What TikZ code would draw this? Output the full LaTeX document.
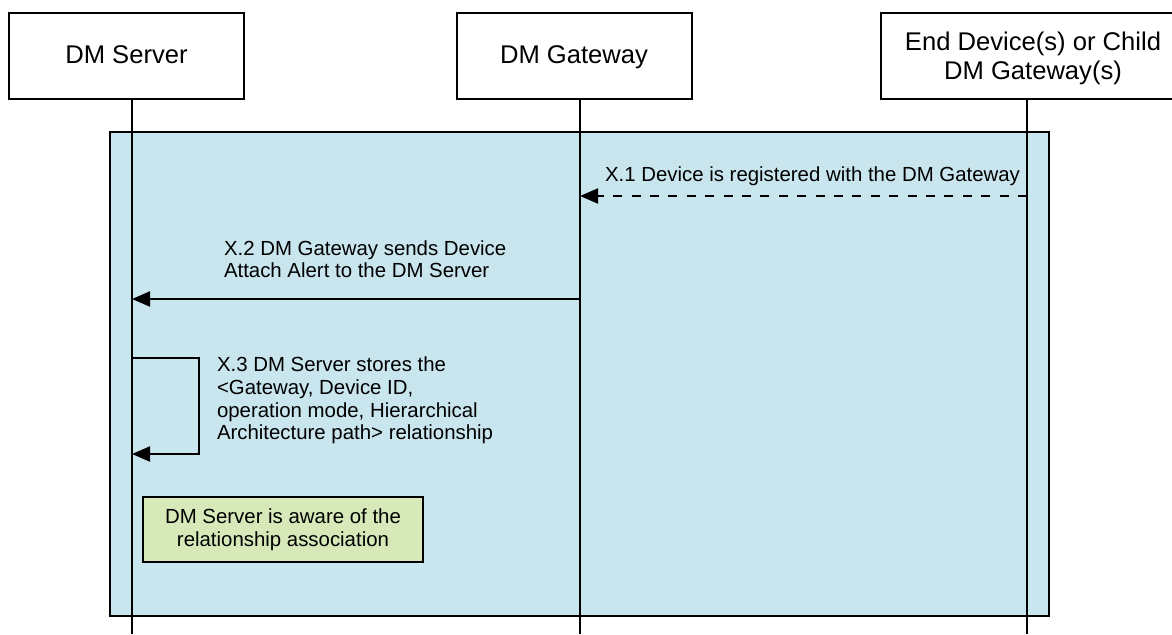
\documentclass[tikz,border=0pt]{standalone}
\usepackage{fontspec}
\setmainfont{Liberation Sans}
\usetikzlibrary{arrows.meta}
\definecolor{frameblue}{HTML}{C9E5EE}
\definecolor{notegreen}{HTML}{D7E9B9}
\begin{document}
\begin{tikzpicture}[x=0.5pt, y=-0.5pt, line width=1pt,
  actor/.style={draw, fill=white, minimum width=117.5pt, minimum height=43pt, inner sep=0pt, align=center, font=\fontsize{12.8}{14.5}\selectfont},
  onerow/.style={text height=0.85em, text depth=0.11em},
  msg/.style={inner sep=0pt, align=left, font=\fontsize{10.2}{11.3}\selectfont},
  note/.style={draw, fill=notegreen, minimum width=140pt, minimum height=32.5pt, inner sep=0pt, align=center, font=\fontsize{10.2}{11.3}\selectfont},
  call/.style={-{Triangle[length=9pt, width=7.5pt]}}]
\useasboundingbox (0,0) rectangle (1172,634);
\clip (0,0) rectangle (1172,634);
\node[actor, onerow] (srv) at (126.5,56) {DM Server};
\node[actor, onerow] (gw) at (574,56) {DM Gateway};
\node[actor, minimum width=152pt, text depth=-1pt] (dev) at (1033,56) {End Device(s) or Child\\DM Gateway(s)};
\filldraw[fill=frameblue] (110,132) rectangle (1049,616);
\coordinate (srvend) at (132,634);
\coordinate (gwend) at (580,634);
\coordinate (devend) at (1027,634);
\draw (srv.south -| srvend) -- (srvend);
\draw (gw.south -| gwend) -- (gwend);
\draw (dev.south -| devend) -- (devend);
\coordinate (x1from) at (1027,196);
\coordinate (x1to) at (580,196);
\coordinate (x2from) at (580,299);
\coordinate (x2to) at (132,299);
\coordinate (x3from) at (132,358);
\coordinate (x3to) at (132,454);
\draw[call, dash pattern=on 4.5pt off 4.7pt] (x1from) -- (x1to);
\node[msg, anchor=east] (x1) at (1021,176) {X.1 Device is registered with the DM Gateway};
\draw[call] (x2from) -- (x2to);
\node[msg, anchor=west] (x2) at (223,259) {X.2 DM Gateway sends Device\\Attach Alert to the DM Server};
\draw[call] (x3from) -- ++(67,0) |- (x3to);
\node[msg, anchor=west] (x3) at (216,400.5) {X.3 DM Server stores the\\<Gateway, Device ID,\\operation mode, Hierarchical\\Architecture path> relationship};
\node[note] (aware) at (283,529.5) {DM Server is aware of the\\relationship association};
\end{tikzpicture}
\end{document}
